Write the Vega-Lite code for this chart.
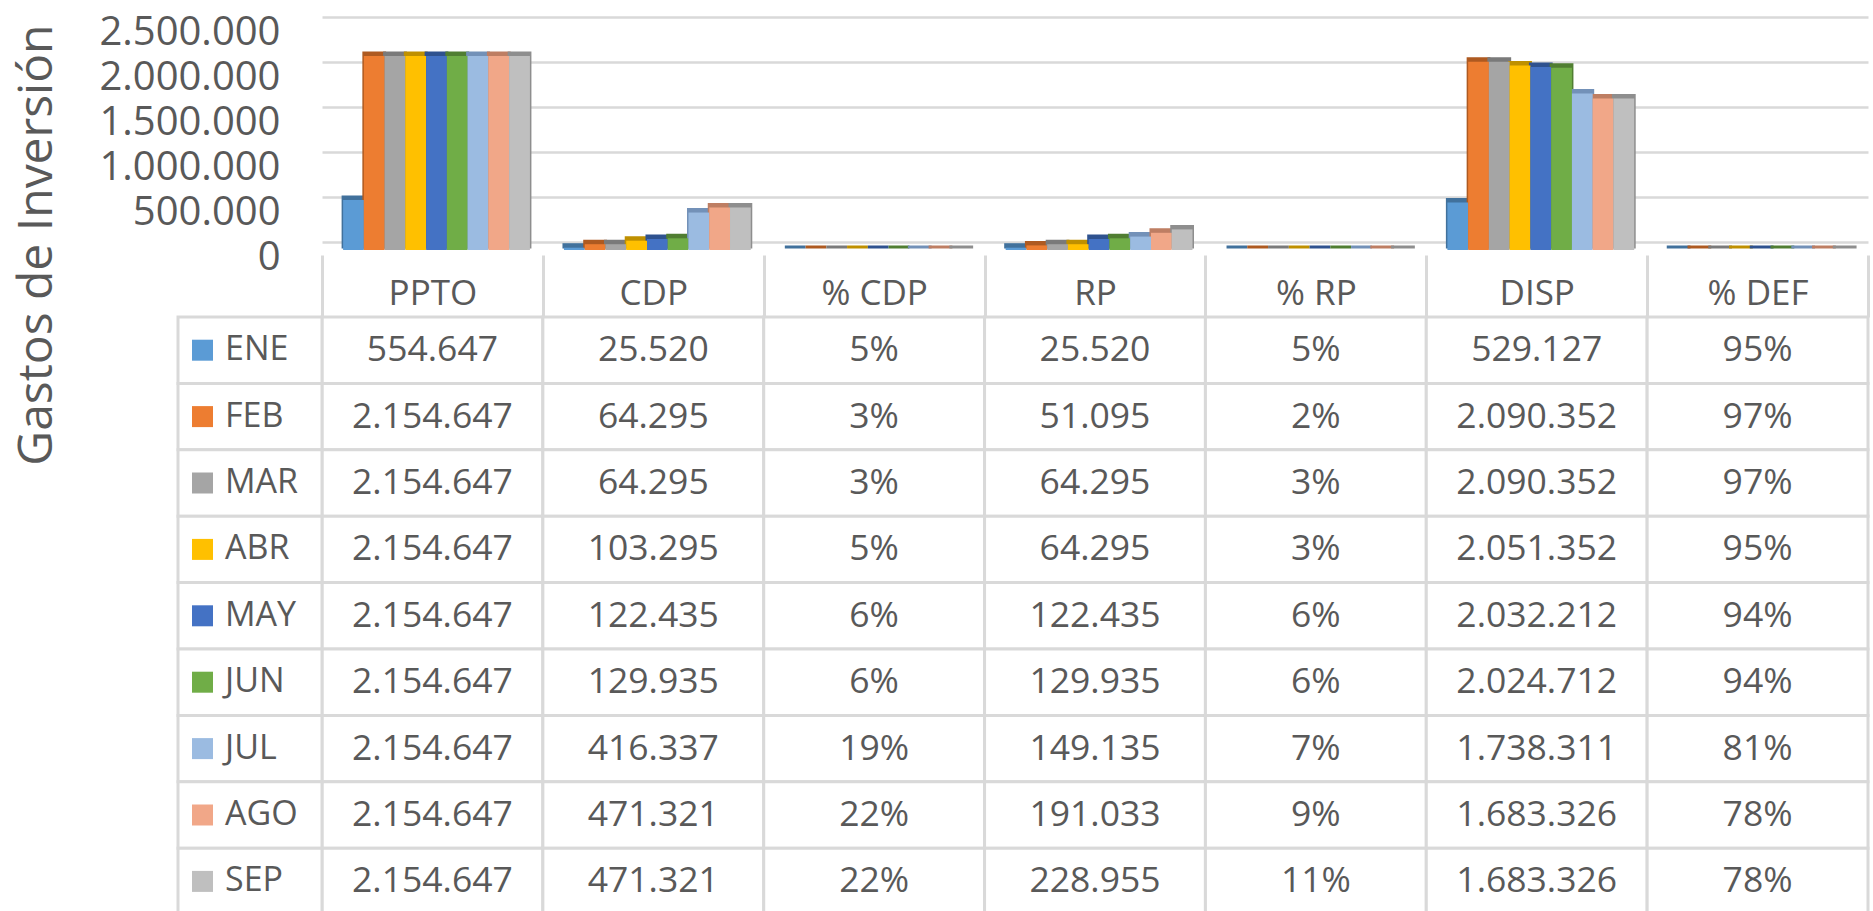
{
  "$schema": "https://vega.github.io/schema/vega-lite/v6.json",
  "width": 1546,
  "height": 894,
  "autosize": {"type": "none"},
  "padding": {"left": 322, "top": 17, "right": 5, "bottom": 0},
  "background": "white",
  "config": {
    "view": {"stroke": null},
    "font": "Open Sans",
    "locale": {"number": {"decimal": ",", "thousands": ".", "grouping": [3], "currency": ["$", ""]}}
  },
  "datasets": {
    "t": [
      {"m": "ENE", "c": "PPTO", "v": 554647}, {"m": "FEB", "c": "PPTO", "v": 2154647}, {"m": "MAR", "c": "PPTO", "v": 2154647},
      {"m": "ABR", "c": "PPTO", "v": 2154647}, {"m": "MAY", "c": "PPTO", "v": 2154647}, {"m": "JUN", "c": "PPTO", "v": 2154647},
      {"m": "JUL", "c": "PPTO", "v": 2154647}, {"m": "AGO", "c": "PPTO", "v": 2154647}, {"m": "SEP", "c": "PPTO", "v": 2154647},
      {"m": "ENE", "c": "CDP", "v": 25520}, {"m": "FEB", "c": "CDP", "v": 64295}, {"m": "MAR", "c": "CDP", "v": 64295},
      {"m": "ABR", "c": "CDP", "v": 103295}, {"m": "MAY", "c": "CDP", "v": 122435}, {"m": "JUN", "c": "CDP", "v": 129935},
      {"m": "JUL", "c": "CDP", "v": 416337}, {"m": "AGO", "c": "CDP", "v": 471321}, {"m": "SEP", "c": "CDP", "v": 471321},
      {"m": "ENE", "c": "% CDP", "v": 0.05}, {"m": "FEB", "c": "% CDP", "v": 0.03}, {"m": "MAR", "c": "% CDP", "v": 0.03},
      {"m": "ABR", "c": "% CDP", "v": 0.05}, {"m": "MAY", "c": "% CDP", "v": 0.06}, {"m": "JUN", "c": "% CDP", "v": 0.06},
      {"m": "JUL", "c": "% CDP", "v": 0.19}, {"m": "AGO", "c": "% CDP", "v": 0.22}, {"m": "SEP", "c": "% CDP", "v": 0.22},
      {"m": "ENE", "c": "RP", "v": 25520}, {"m": "FEB", "c": "RP", "v": 51095}, {"m": "MAR", "c": "RP", "v": 64295},
      {"m": "ABR", "c": "RP", "v": 64295}, {"m": "MAY", "c": "RP", "v": 122435}, {"m": "JUN", "c": "RP", "v": 129935},
      {"m": "JUL", "c": "RP", "v": 149135}, {"m": "AGO", "c": "RP", "v": 191033}, {"m": "SEP", "c": "RP", "v": 228955},
      {"m": "ENE", "c": "% RP", "v": 0.05}, {"m": "FEB", "c": "% RP", "v": 0.02}, {"m": "MAR", "c": "% RP", "v": 0.03},
      {"m": "ABR", "c": "% RP", "v": 0.03}, {"m": "MAY", "c": "% RP", "v": 0.06}, {"m": "JUN", "c": "% RP", "v": 0.06},
      {"m": "JUL", "c": "% RP", "v": 0.07}, {"m": "AGO", "c": "% RP", "v": 0.09}, {"m": "SEP", "c": "% RP", "v": 0.11},
      {"m": "ENE", "c": "DISP", "v": 529127}, {"m": "FEB", "c": "DISP", "v": 2090352}, {"m": "MAR", "c": "DISP", "v": 2090352},
      {"m": "ABR", "c": "DISP", "v": 2051352}, {"m": "MAY", "c": "DISP", "v": 2032212}, {"m": "JUN", "c": "DISP", "v": 2024712},
      {"m": "JUL", "c": "DISP", "v": 1738311}, {"m": "AGO", "c": "DISP", "v": 1683326}, {"m": "SEP", "c": "DISP", "v": 1683326},
      {"m": "ENE", "c": "% DEF", "v": 0.95}, {"m": "FEB", "c": "% DEF", "v": 0.97}, {"m": "MAR", "c": "% DEF", "v": 0.97},
      {"m": "ABR", "c": "% DEF", "v": 0.95}, {"m": "MAY", "c": "% DEF", "v": 0.94}, {"m": "JUN", "c": "% DEF", "v": 0.94},
      {"m": "JUL", "c": "% DEF", "v": 0.81}, {"m": "AGO", "c": "% DEF", "v": 0.78}, {"m": "SEP", "c": "% DEF", "v": 0.78}
    ]
  },
  "data": {"name": "t"},
  "resolve": {"scale": {"x": "independent", "y": "independent"}},
  "layer": [
    {
      "mark": {"type": "bar", "yOffset": 5, "y2Offset": 7, "strokeWidth": 3},
      "encoding": {
        "x": {"field": "c", "type": "nominal", "scale": {"domain": ["PPTO", "CDP", "% CDP", "RP", "% RP", "DISP", "% DEF"], "paddingInner": 0, "paddingOuter": 0}, "axis": null},
        "xOffset": {"field": "m", "type": "nominal", "scale": {"domain": ["ENE", "FEB", "MAR", "ABR", "MAY", "JUN", "JUL", "AGO", "SEP"], "paddingInner": 0, "paddingOuter": 0.82, "align": 0.62}},
        "y": {"field": "v", "type": "quantitative", "scale": {"domain": [0, 2500000], "range": [225, 0], "nice": false, "zero": true}, "axis": null},
        "fill": {"field": "m", "type": "nominal", "scale": {"domain": ["ENE", "FEB", "MAR", "ABR", "MAY", "JUN", "JUL", "AGO", "SEP"], "range": ["#41719C", "#AE5A21", "#7A7A7A", "#BF9000", "#2F528F", "#507E32", "#7391B8", "#BE7E63", "#8E8E8E"]}, "legend": null},
        "stroke": {"field": "m", "type": "nominal", "scale": {"domain": ["ENE", "FEB", "MAR", "ABR", "MAY", "JUN", "JUL", "AGO", "SEP"], "range": ["#41719C", "#AE5A21", "#7A7A7A", "#BF9000", "#2F528F", "#507E32", "#7391B8", "#BE7E63", "#8E8E8E"]}, "legend": null}
      }
    },
    {
      "mark": {"type": "bar", "yOffset": 8, "y2Offset": 8},
      "encoding": {
        "x": {
          "field": "c", "type": "nominal",
          "scale": {"domain": ["PPTO", "CDP", "% CDP", "RP", "% RP", "DISP", "% DEF"], "paddingInner": 0, "paddingOuter": 0},
          "axis": {
            "orient": "bottom", "offset": -656, "title": null, "domain": false, "grid": false,
            "ticks": true, "tickSize": 62, "tickWidth": 3, "tickColor": "#d9d9d9", "tickBand": "extent", "tickOpacity": 1,
            "labelFont": "Open Sans", "labelFontSize": 35, "labelColor": "#595959", "labelAngle": 0,
            "labelPadding": -24, "labelBaseline": "middle", "labelAlign": "center"
          }
        },
        "xOffset": {"field": "m", "type": "nominal", "scale": {"domain": ["ENE", "FEB", "MAR", "ABR", "MAY", "JUN", "JUL", "AGO", "SEP"], "paddingInner": 0, "paddingOuter": 0.82, "align": 0.62}},
        "y": {
          "field": "v", "type": "quantitative",
          "scale": {"domain": [0, 2500000], "range": [225, 0], "nice": false, "zero": true},
          "axis": {
            "title": "Gastos de Inversión", "values": [0, 500000, 1000000, 1500000, 2000000, 2500000], "format": ",d",
            "grid": true, "gridColor": "#d9d9d9", "gridWidth": 2.5, "domain": false, "ticks": false, "tickSize": 0,
            "labelPadding": 42, "labelFont": "Open Sans", "labelFontSize": 40, "labelColor": "#595959", "labelOffset": 15,
            "labelFlush": false, "labelBound": false, "labelOverlap": false, "labelLimit": 0,
            "titleFont": "Open Sans", "titleFontSize": 48, "titleFontWeight": "normal", "titleColor": "#595959",
            "titleX": -285, "titleY": 7, "titleAngle": -90, "titleAlign": "right", "titleBaseline": "middle", "titleLimit": 0
          }
        },
        "color": {"field": "m", "type": "nominal", "scale": {"domain": ["ENE", "FEB", "MAR", "ABR", "MAY", "JUN", "JUL", "AGO", "SEP"], "range": ["#5B9BD5", "#ED7D31", "#A5A5A5", "#FFC000", "#4472C4", "#70AD47", "#9BBBE1", "#F1A788", "#BFBFBF"]}, "legend": null}
      }
    },
    {
      "mark": {"type": "rect", "fill": "white", "stroke": "#d9d9d9", "strokeWidth": 3},
      "encoding": {
        "x": {"field": "c", "type": "nominal", "scale": {"domain": ["PPTO", "CDP", "% CDP", "RP", "% RP", "DISP", "% DEF"], "paddingInner": 0, "paddingOuter": 0}, "axis": null},
        "y": {"field": "m", "type": "nominal", "scale": {"domain": ["ENE", "FEB", "MAR", "ABR", "MAY", "JUN", "JUL", "AGO", "SEP"], "range": [300, 897.6], "paddingInner": 0, "paddingOuter": 0}, "axis": null}
      }
    },
    {
      "transform": [{"filter": {"field": "c", "oneOf": ["PPTO", "CDP", "RP", "DISP"]}}],
      "mark": {"type": "text", "align": "center", "baseline": "middle", "font": "Open Sans", "fontSize": 35.5, "color": "#595959"},
      "encoding": {
        "x": {"field": "c", "type": "nominal", "scale": {"domain": ["PPTO", "CDP", "% CDP", "RP", "% RP", "DISP", "% DEF"], "paddingInner": 0, "paddingOuter": 0}, "axis": null},
        "y": {"field": "m", "type": "nominal", "scale": {"domain": ["ENE", "FEB", "MAR", "ABR", "MAY", "JUN", "JUL", "AGO", "SEP"], "range": [300, 897.6], "paddingInner": 0, "paddingOuter": 0}, "axis": null},
        "text": {"field": "v", "type": "quantitative", "format": ",d"}
      }
    },
    {
      "transform": [{"filter": {"field": "c", "oneOf": ["% CDP", "% RP", "% DEF"]}}],
      "mark": {"type": "text", "align": "center", "baseline": "middle", "font": "Open Sans", "fontSize": 35.5, "color": "#595959"},
      "encoding": {
        "x": {"field": "c", "type": "nominal", "scale": {"domain": ["PPTO", "CDP", "% CDP", "RP", "% RP", "DISP", "% DEF"], "paddingInner": 0, "paddingOuter": 0}, "axis": null},
        "y": {"field": "m", "type": "nominal", "scale": {"domain": ["ENE", "FEB", "MAR", "ABR", "MAY", "JUN", "JUL", "AGO", "SEP"], "range": [300, 897.6], "paddingInner": 0, "paddingOuter": 0}, "axis": null},
        "text": {"field": "v", "type": "quantitative", "format": ".0%"}
      }
    },
    {
      "transform": [{"filter": {"field": "c", "equal": "PPTO"}}],
      "mark": {"type": "rect", "fill": "white", "stroke": "#d9d9d9", "strokeWidth": 3},
      "encoding": {
        "x": {"datum": "leg", "type": "nominal", "scale": {"domain": ["leg"], "range": [-144, 0], "paddingInner": 0, "paddingOuter": 0}, "axis": null},
        "y": {"field": "m", "type": "nominal", "scale": {"domain": ["ENE", "FEB", "MAR", "ABR", "MAY", "JUN", "JUL", "AGO", "SEP"], "range": [300, 897.6], "paddingInner": 0, "paddingOuter": 0}, "axis": null}
      }
    },
    {
      "transform": [{"filter": {"field": "c", "equal": "PPTO"}}],
      "mark": {"type": "point", "shape": "square", "filled": true, "size": 441, "opacity": 1, "xOffset": -47.5},
      "encoding": {
        "x": {"datum": "leg", "type": "nominal", "scale": {"domain": ["leg"], "range": [-144, 0], "paddingInner": 0, "paddingOuter": 0}, "axis": null},
        "y": {"field": "m", "type": "nominal", "scale": {"domain": ["ENE", "FEB", "MAR", "ABR", "MAY", "JUN", "JUL", "AGO", "SEP"], "range": [300, 897.6], "paddingInner": 0, "paddingOuter": 0}, "axis": null},
        "color": {"field": "m", "type": "nominal", "scale": {"domain": ["ENE", "FEB", "MAR", "ABR", "MAY", "JUN", "JUL", "AGO", "SEP"], "range": ["#5B9BD5", "#ED7D31", "#A5A5A5", "#FFC000", "#4472C4", "#70AD47", "#9BBBE1", "#F1A788", "#BFBFBF"]}, "legend": null}
      }
    },
    {
      "transform": [{"filter": {"field": "c", "equal": "PPTO"}}],
      "mark": {"type": "text", "align": "left", "baseline": "middle", "font": "Open Sans", "fontSize": 34, "color": "#595959", "xOffset": -25},
      "encoding": {
        "x": {"datum": "leg", "type": "nominal", "scale": {"domain": ["leg"], "range": [-144, 0], "paddingInner": 0, "paddingOuter": 0}, "axis": null},
        "y": {"field": "m", "type": "nominal", "scale": {"domain": ["ENE", "FEB", "MAR", "ABR", "MAY", "JUN", "JUL", "AGO", "SEP"], "range": [300, 897.6], "paddingInner": 0, "paddingOuter": 0}, "axis": null},
        "text": {"field": "m", "type": "nominal"}
      }
    }
  ]
}
